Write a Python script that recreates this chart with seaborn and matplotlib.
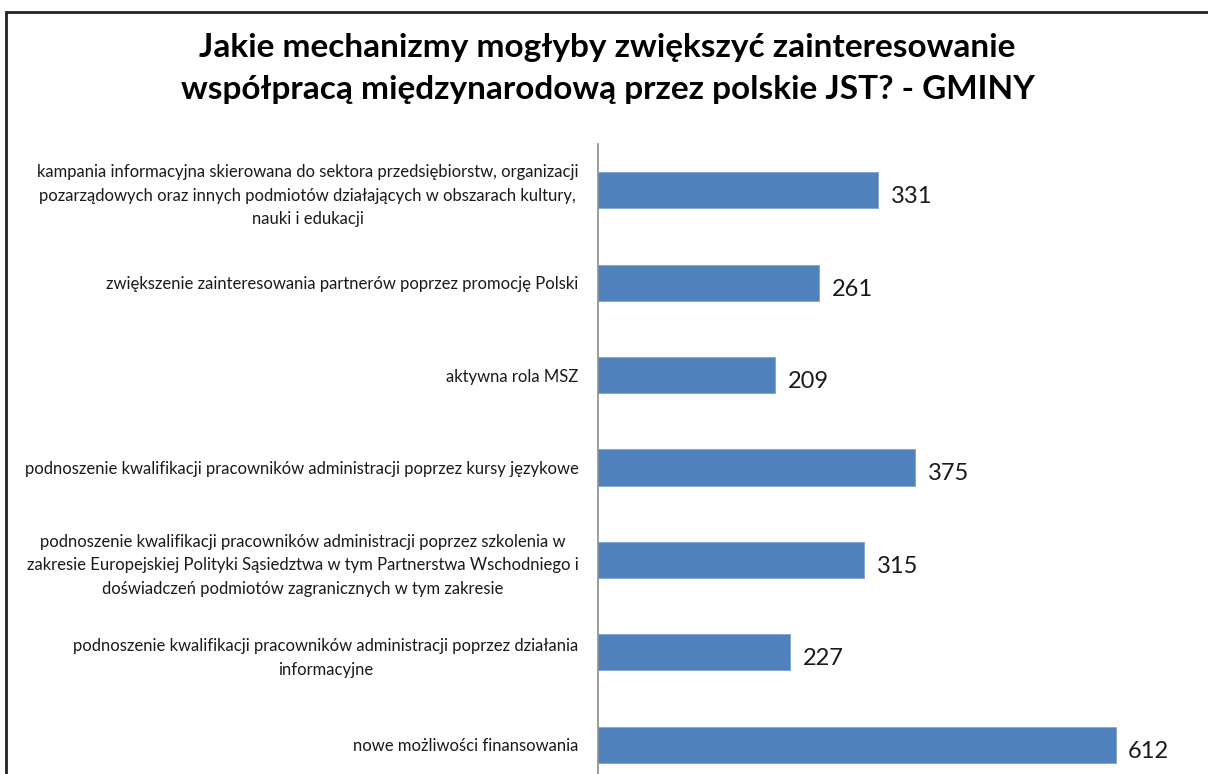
import seaborn as sns
import pandas as pd
import matplotlib.pyplot as plt
from matplotlib.patches import Rectangle

### Dane
mechanizmy = [
    "kampania informacyjna skierowana do sektora przedsiębiorstw, organizacji\n"
    "pozarządowych oraz innych podmiotów działających w obszarach kultury,\n"
    "nauki i edukacji",
    "zwiększenie zainteresowania partnerów poprzez promocję Polski",
    "aktywna rola MSZ",
    "podnoszenie kwalifikacji pracowników administracji poprzez kursy językowe",
    "podnoszenie kwalifikacji pracowników administracji poprzez szkolenia w\n"
    "zakresie Europejskiej Polityki Sąsiedztwa w tym Partnerstwa Wschodniego i\n"
    "doświadczeń podmiotów zagranicznych w tym zakresie",
    "podnoszenie kwalifikacji pracowników administracji poprzez działania\n"
    "informacyjne",
    "nowe możliwości finansowania",
]
liczba = [331, 261, 209, 375, 315, 227, 612]

tytul = ("Jakie mechanizmy mogłyby zwiększyć zainteresowanie\n"
         "współpracą międzynarodową przez polskie JST? - GMINY")

df = pd.DataFrame({"mechanizm": mechanizmy, "liczba": liczba})

### Wykres
sns.set_style("white")
plt.rcParams['font.family'] = ['Lato', 'DejaVu Sans']

fig = plt.figure(figsize=(12.08, 7.74), dpi=100)
ax = fig.add_axes([598 / 1208, -0.022, 0.49, 0.836])

sns.barplot(data=df, x="liczba", y="mechanizm", orient="h", color="#4F81BD",
            saturation=1, width=0.39, edgecolor="#7FA3D3", linewidth=0.6, ax=ax)

ax.set_xlim(0, 700)
ax.set_ylim(6.5, -0.5)
ax.set_xlabel("")
ax.set_ylabel("")
ax.set_xticks([])
for s in ["top", "right", "bottom"]:
    ax.spines[s].set_visible(False)
ax.spines["left"].set_color("#8C8C8C")
ax.spines["left"].set_linewidth(1.2)
ax.tick_params(axis="y", length=0, pad=14)
for lab in ax.get_yticklabels():
    lab.set_fontsize(12)
    lab.set_multialignment("center")
    lab.set_linespacing(1.6)
    lab.set_color("#1a1a1a")

for i, v in enumerate(liczba):
    ax.text(v + 15, i + 0.07, str(v), va="center", ha="left", fontsize=17,
            color="#1a1a1a")

fig.text(0.503, 0.911, tytul, ha="center", va="center", fontsize=24,
         fontweight="bold", linespacing=1.55, color="black")

# ramka wykresu
fig.patches.append(Rectangle((6 / 1208, -0.1), 1.2, 1 - 12 / 774 + 0.1,
                             transform=fig.transFigure, fill=False,
                             edgecolor="#222222", linewidth=2))

plt.savefig("out.png", dpi=100)
